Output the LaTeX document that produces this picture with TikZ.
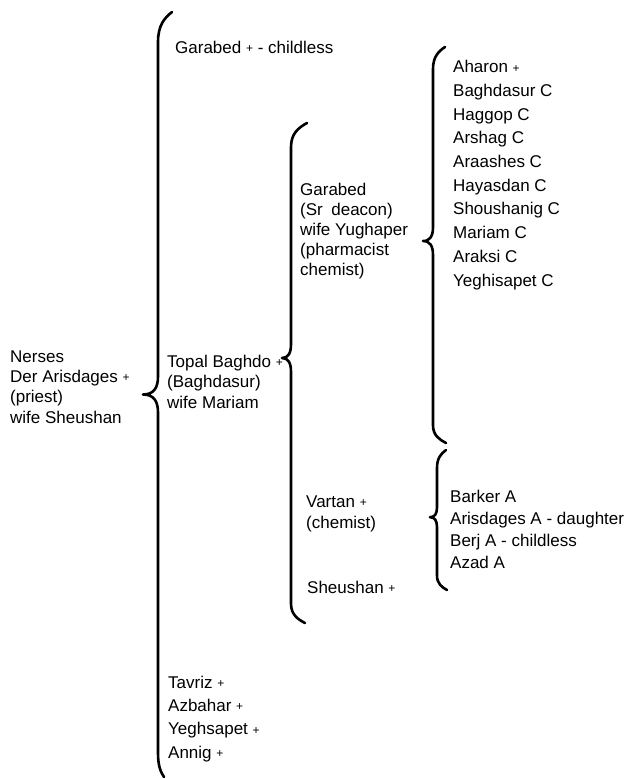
\documentclass[tikz,border=0pt]{standalone}
\usepackage{fontspec}
\setmainfont{Liberation Sans}
\usetikzlibrary{calc}

% small "deceased" mark
\newcommand{\dmark}{\raisebox{0.6pt}{\fontsize{12}{12}\selectfont +}}

\tikzset{
  % brace geometry: hook (ends to stem), tip depth, tip position,
  % length of the end hooks, half height of the tip bend
  bh/.store in=\bh, ba/.store in=\ba, bs/.store in=\bs,
  bl/.store in=\bl, bt/.store in=\bt,
  bh=12pt, ba=10pt, bs=0.5, bl=22pt, bt=14pt,
  curly/.style={line width=2.6pt, line cap=round, line join=round,
    to path={let \p1=(\tikztostart), \p2=(\tikztotarget),
                 \p3=($(\tikztostart)!\bs!(\tikztotarget)$) in
      .. controls ({\x1-0.55*\bh},{\y1-0.2*\bl}) and ({\x1-\bh},{\y1-0.45*\bl}) ..
         ({\x1-\bh},{\y1-\bl})
      -- ({\x1-\bh},{\y3+\bt})
      .. controls ({\x1-\bh},{\y3+0.35*\bt}) and ({\x1-\bh-0.3*\ba},{\y3}) ..
         ({\x1-\bh-\ba},{\y3})
      .. controls ({\x1-\bh-0.3*\ba},{\y3}) and ({\x1-\bh},{\y3-0.35*\bt}) ..
         ({\x1-\bh},{\y3-\bt})
      -- ({\x1-\bh},{\y2+0.8*\bl})
      .. controls ({\x1-\bh},{\y2+0.35*\bl}) and ({0.5*\x1-0.5*\bh+0.5*\x2},{\y2+0.15*\bl}) ..
         (\tikztotarget)}}
}

\begin{document}
\begin{tikzpicture}[x=1pt,y=-1pt,
  % a block of names; it is placed by the baseline of its last line
  person/.style={anchor=base west, inner sep=0pt, align=left,
    font=\fontsize{17}{#1}\selectfont},
  person/.default=20.3]
\useasboundingbox (0,0) rectangle (627,779);

% ---- generation 1 ----
\node[person] (nerses) at (10,423)
  {Nerses\\Der Arisdages \dmark\\(priest)\\wife Sheushan};

% ---- generation 2 ----
\node[person] (garabed1) at (175,53) {Garabed \dmark{} - childless};
\node[person=20.5] (topal) at (167,408)
  {Topal Baghdo \dmark\\(Baghdasur)\\wife Mariam};
\node[person=23.3] (daughters) at (168,758)
  {Tavriz \dmark\\Azbahar \dmark\\Yeghsapet \dmark\\Annig \dmark};

% ---- generation 3 ----
\node[person=20] (garabed2) at (300,275)
  {Garabed\\(Sr\enspace deacon)\\wife Yughaper\\(pharmacist\\chemist)};
\node[person=21] (vartan) at (306,528) {Vartan \dmark\\(chemist)};
\node[person] (sheushan) at (307,593) {Sheushan \dmark};

% ---- generation 4 ----
\node[person=23.7] (garabedkids) at (453,286)
  {Aharon \dmark\\Baghdasur C\\Haggop C\\Arshag C\\Araashes C\\Hayasdan C\\%
   Shoushanig C\\Mariam C\\Araksi C\\Yeghisapet C};
\node[person=21.7] (vartankids) at (450,568)
  {Barker A\\Arisdages A - daughter\\Berj A - childless\\Azad A};

% ---- brace end points ----
\coordinate (b1top) at (172,12);   \coordinate (b1bot) at (164,777);
\coordinate (b2top) at (307,123);  \coordinate (b2bot) at (305,623);
\coordinate (b3top) at (445,47);   \coordinate (b3bot) at (446,443);
\coordinate (b4top) at (446,450);  \coordinate (b4bot) at (447,590);

% ---- braces ----
\draw[curly, bh=14pt, ba=15pt, bs=0.5,  bl=30pt, bt=18pt] (b1top) to (b1bot);
\draw[curly, bh=16pt, ba=9pt,  bs=0.47, bl=24pt, bt=14pt] (b2top) to (b2bot);
\draw[curly, bh=12pt, ba=10pt, bs=0.49, bl=22pt, bt=14pt] (b3top) to (b3bot);
\draw[curly, bh=9pt,  ba=7pt,  bs=0.48, bl=18pt, bt=10pt] (b4top) to (b4bot);
\end{tikzpicture}
\end{document}
